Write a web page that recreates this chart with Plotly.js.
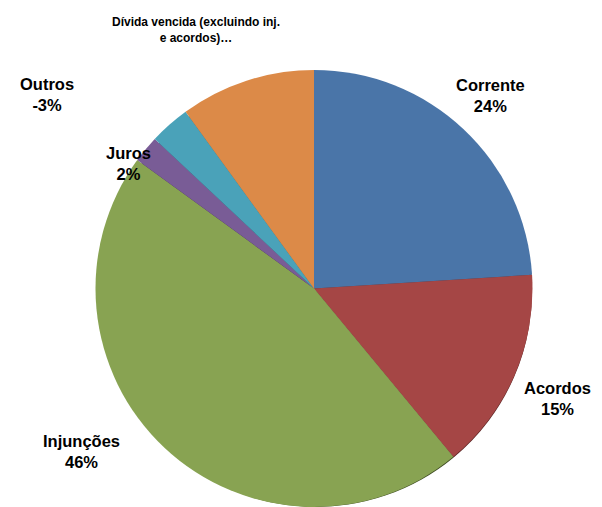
<!DOCTYPE html>
<html>
<head>
<meta charset="utf-8">
<script src="https://cdn.plot.ly/plotly-3.0.1.min.js"></script>
<style>html,body{margin:0;padding:0;background:#fff;}#chart{width:602px;height:507px;}</style>
</head>
<body>
<div id="chart"></div>
<script>
const categories = ["Corrente", "Acordos", "Injunções", "Juros", "Outros", "Dívida vencida (excluindo inj. e acordos)…"];
const values = [24, 15, 46, 2, 3, 10];
const pctLabels = ["24%", "15%", "46%", "2%", "-3%", ""];
const displayNames = ["Corrente", "Acordos", "Injunções", "Juros", "Outros", "Dívida vencida (excluindo inj.<br>e acordos)…"];
const colors = ["#4a75a8", "#a54645", "#88a352", "#795c96", "#4aa2b9", "#dc8a48"];
const shadowColors = ["#2e4868", "#5a2423", "#3d4a22", "#3b2d4a", "#25535e", "#6e4523"];

const W = 602, H = 507;
const cx = 314, cy = 289, r = 219;
function dom(ox, oy) {
  return {
    x: [(cx + ox - r) / W, (cx + ox + r) / W],
    y: [(H - (cy + oy) - r) / H, (H - (cy + oy) + r) / H]
  };
}

const shadow = {
  type: "pie", labels: categories, values: values, sort: false, direction: "clockwise",
  rotation: 0, textinfo: "none", hoverinfo: "skip", showlegend: false,
  marker: {colors: shadowColors, line: {width: 0}}, domain: dom(2, 5)
};
const pie = {
  type: "pie", labels: categories, values: values, sort: false, direction: "clockwise",
  rotation: 0, textinfo: "none", showlegend: false,
  marker: {colors: colors, line: {width: 0}}, domain: dom(0, 0)
};

const labelPos = [
  [490, 96], [557, 398], [81, 451], [128, 163], [47, 94], [196, 30]
];
const annotations = categories.map((c, i) => {
  const isLong = i === 5;
  return {
    xref: "paper", yref: "paper",
    x: labelPos[i][0] / W, y: 1 - labelPos[i][1] / H,
    xanchor: "center", yanchor: "middle", showarrow: false,
    align: "center",
    text: "<b>" + displayNames[i] + (pctLabels[i] ? "<br>" + pctLabels[i] : "") + "</b>",
    font: {family: "'Liberation Sans', Arial, sans-serif", size: isLong ? 12 : 16.5, color: "#000"}
  };
});

const layout = {
  width: W, height: H,
  margin: {l: 0, r: 0, t: 0, b: 0},
  paper_bgcolor: "#fff",
  showlegend: false,
  annotations: annotations
};
Plotly.newPlot("chart", [shadow, pie], layout, {displayModeBar: false, staticPlot: true});
</script>
</body>
</html>
